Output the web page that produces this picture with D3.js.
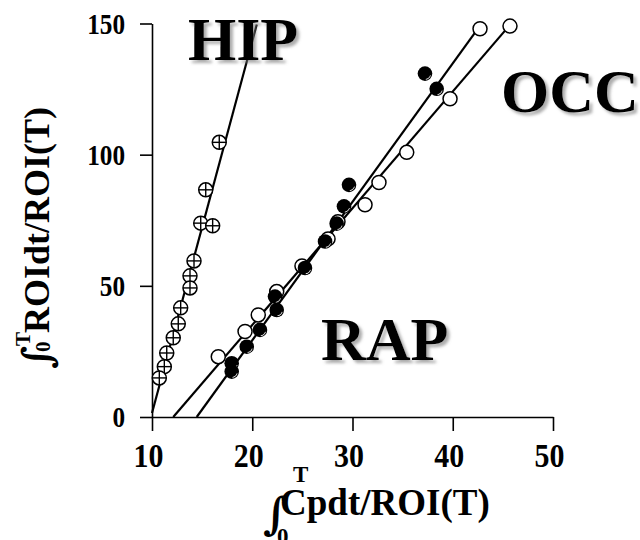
<!DOCTYPE html>
<html>
<head>
<meta charset="utf-8">
<script src="https://cdn.jsdelivr.net/npm/d3@7"></script>
<style>
  body { margin: 0; background: #fff; }
  svg { display: block; }
  text { font-family: "Liberation Serif", "Times New Roman", serif; font-weight: bold; fill: #000; }
  text.int { font-family: "DejaVu Serif", serif; font-weight: bold; }
</style>
</head>
<body>
<svg id="chart" width="640" height="540"></svg>
<script>
// tick values
var xTicks = [10, 20, 30, 40, 50];
var yTicks = [0, 50, 100, 150];

// HIP points (crossed circles)
var hipX = [16.71, 15.36, 14.86, 16.05, 14.19, 13.79, 13.79, 12.86, 12.62, 12.12, 11.47, 11.23, 10.73];
var hipY = [104.7, 86.6, 73.9, 72.9, 59.5, 53.8, 49.2, 41.6, 35.5, 30.2, 24.4, 19.2, 14.9];

// RAP / OCC open circles
var openX = [42.72, 45.71, 39.73, 35.41, 32.64, 31.25, 28.55, 27.56, 24.96, 22.44, 20.60, 19.28, 16.61];
var openY = [148.0, 149.0, 121.3, 100.9, 89.4, 80.9, 74.4, 67.9, 57.6, 47.8, 38.9, 32.6, 23.0];

// RAP / OCC filled circles
var filledX = [37.23, 38.40, 29.65, 29.15, 28.42, 27.26, 25.26, 22.27, 22.44, 20.77, 19.45, 17.95, 17.95];
var filledY = [130.9, 125.1, 88.5, 80.3, 73.7, 66.9, 56.8, 45.9, 40.8, 33.2, 26.8, 20.5, 17.3];

// regression lines (end points)
var hipLineX = [10.0, 20.45];
var hipLineY = [1.5, 149.6];
var steepLineX = [14.46, 42.6];
var steepLineY = [0, 148.5];
var shallowLineX = [12.12, 45.6];
var shallowLineY = [0, 149];

var svg = d3.select("#chart");

var x = d3.scaleLinear().domain([10, 50]).range([152, 553]);
var y = d3.scaleLinear().domain([0, 150]).range([417, 23.5]);

// drop shadow for the region names
var defs = svg.append("defs");
var f = defs.append("filter").attr("id", "shadow")
  .attr("x", "-10%").attr("y", "-10%").attr("width", "130%").attr("height", "140%");
f.append("feDropShadow").attr("dx", 3).attr("dy", 3).attr("stdDeviation", 1.6)
  .attr("flood-color", "#777").attr("flood-opacity", 0.6);

// axes
var yAxis = d3.axisLeft(y).tickValues(yTicks).tickSize(12).tickSizeOuter(0);
var xAxis = d3.axisBottom(x).tickValues(xTicks).tickSize(14).tickSizeOuter(0);

var gy = svg.append("g").attr("transform", "translate(152,0)").call(yAxis);
var gx = svg.append("g").attr("transform", "translate(0,417)").call(xAxis);

[gx, gy].forEach(function (g) {
  g.attr("font-family", null).attr("font-size", null);
  g.selectAll("path, line").attr("stroke", "#000").attr("stroke-width", 1.6);
});
gy.selectAll("text")
  .attr("x", -27 / 0.87).attr("dy", "0.34em")
  .attr("transform", "scale(0.87,1)")
  .style("font-size", "29px");
gx.selectAll("text")
  .attr("x", -4 / 0.88).attr("y", 50).attr("dy", 0)
  .attr("transform", "scale(0.88,1)")
  .style("font-size", "34px");

// fit lines
function drawLine(xs, ys) {
  svg.append("line")
    .attr("x1", x(xs[0])).attr("y1", y(ys[0]))
    .attr("x2", x(xs[1])).attr("y2", y(ys[1]))
    .attr("stroke", "#000").attr("stroke-width", 2.2);
}
drawLine(hipLineX, hipLineY);
drawLine(steepLineX, steepLineY);
drawLine(shallowLineX, shallowLineY);

var r = 7;

// open circles
svg.append("g").selectAll("circle").data(openX).join("circle")
  .attr("cx", function (d) { return x(d); })
  .attr("cy", function (d, i) { return y(openY[i]); })
  .attr("r", r).attr("fill", "#fff").attr("stroke", "#000").attr("stroke-width", 1.5);

// filled circles
var fg = svg.append("g").selectAll("g").data(filledX).join("g")
  .attr("transform", function (d, i) { return "translate(" + x(d) + "," + y(filledY[i]) + ")"; });
fg.append("circle").attr("r", r + 0.3).attr("fill", "#000");
fg.append("path")
  .attr("d", d3.arc()({ innerRadius: r - 1.6, outerRadius: r - 0.8, startAngle: 1.9, endAngle: 3.0 }))
  .attr("fill", "#fff");

// HIP crossed circles
var hg = svg.append("g").selectAll("g").data(hipX).join("g")
  .attr("transform", function (d, i) { return "translate(" + x(d) + "," + y(hipY[i]) + ")"; });
hg.append("circle").attr("r", r).attr("fill", "#fff").attr("stroke", "#000").attr("stroke-width", 1.5);
hg.append("line").attr("x1", -r).attr("x2", r).attr("stroke", "#000").attr("stroke-width", 1.4);
hg.append("line").attr("y1", -r).attr("y2", r).attr("stroke", "#000").attr("stroke-width", 1.4);

// region names
svg.append("text").attr("x", 188).attr("y", 60).style("font-size", "62px")
  .attr("filter", "url(#shadow)").text("HIP");
svg.append("text").attr("x", 501).attr("y", 112).style("font-size", "62px")
  .attr("filter", "url(#shadow)").text("OCC");
svg.append("text").attr("x", 321).attr("y", 360).style("font-size", "62px")
  .attr("filter", "url(#shadow)").text("RAP");

// x axis title: integral sign with limits, then the expression
var xt = svg.append("g").attr("transform", "translate(280,515)");
xt.append("text").attr("class", "int").attr("x", -17).attr("y", 14).style("font-size", "44px").text("\u222B");
xt.append("text").attr("x", 13).attr("y", -33).style("font-size", "23px").text("T");
xt.append("text").attr("x", -3).attr("y", 29).style("font-size", "23px").text("0");
xt.append("text").style("font-size", "37px").text("Cpdt/ROI(T)");

// y axis title, rotated
var yt = svg.append("g").attr("transform", "translate(49,333) rotate(-90)");
yt.append("text").attr("class", "int").attr("x", -36).attr("y", 2).style("font-size", "40px").text("\u222B");
yt.append("text").attr("x", -13).attr("y", -19).style("font-size", "21px").text("T");
yt.append("text").attr("x", -19).attr("y", 1).style("font-size", "21px").text("0");
yt.append("text").style("font-size", "36px").text("ROIdt/ROI(T)");
</script>
</body>
</html>
